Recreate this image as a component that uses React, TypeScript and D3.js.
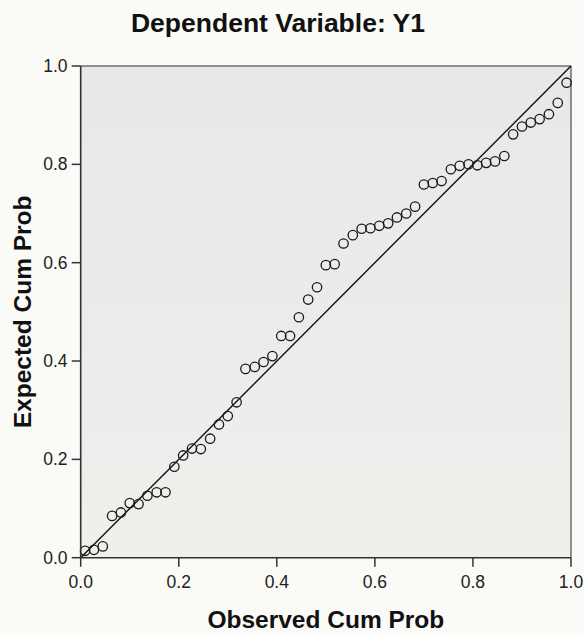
import React from "react";
import * as d3 from "d3";

const observed: number[] = [
  0.009, 0.027, 0.045, 0.064, 0.082, 0.1, 0.118, 0.136, 0.155, 0.173, 0.191,
  0.209, 0.227, 0.245, 0.264, 0.282, 0.3, 0.318, 0.336, 0.355, 0.373, 0.391,
  0.409, 0.427, 0.445, 0.464, 0.482, 0.5, 0.518, 0.536, 0.555, 0.573, 0.591,
  0.609, 0.627, 0.645, 0.664, 0.682, 0.7, 0.718, 0.736, 0.755, 0.773, 0.791,
  0.809, 0.827, 0.845, 0.864, 0.882, 0.9, 0.918, 0.936, 0.955, 0.973, 0.991,
];

const expected: number[] = [
  0.014, 0.016, 0.023, 0.085, 0.092, 0.111, 0.109, 0.126, 0.133, 0.133, 0.185,
  0.208, 0.222, 0.221, 0.242, 0.271, 0.288, 0.316, 0.384, 0.388, 0.398, 0.41,
  0.451, 0.451, 0.489, 0.525, 0.55, 0.595, 0.597, 0.639, 0.656, 0.669, 0.67,
  0.675, 0.68, 0.692, 0.7, 0.714, 0.759, 0.762, 0.766, 0.79, 0.797, 0.8,
  0.798, 0.803, 0.806, 0.817, 0.861, 0.877, 0.885, 0.892, 0.902, 0.925, 0.966,
];

const tickValues: number[] = [0, 0.2, 0.4, 0.6, 0.8, 1.0];
const tickLabels: string[] = ["0.0", "0.2", "0.4", "0.6", "0.8", "1.0"];

const title = "Dependent Variable: Y1";
const xTitle = "Observed Cum Prob";
const yTitle = "Expected Cum Prob";

const W = 584;
const H = 633;
const FONT = "'Liberation Sans', Arial, Helvetica, sans-serif";

export default function App() {
  const x = d3.scaleLinear().domain([0, 1]).range([80.7, 571]);
  const y = d3.scaleLinear().domain([0, 1]).range([557.7, 66]);
  const [x0, x1] = x.range();
  const [y0, y1] = y.range();
  const line = d3.line<number>()
    .x((d) => x(d))
    .y((d) => y(d));

  return (
    <div style={{ position: "fixed", left: 0, top: 0 }}>
      <svg width={W} height={H} style={{ display: "block" }}>
        <defs>
          <linearGradient id="bg" x1="0" y1="0" x2="0" y2="1">
            <stop offset="0" stopColor="#e7e8e9" />
            <stop offset="0.5" stopColor="#ebecea" />
            <stop offset="1" stopColor="#efefec" />
          </linearGradient>
        </defs>
        <rect x={0} y={0} width={W} height={H} fill="#fafaf7" />
        <rect x={x0} y={y1} width={x1 - x0} height={y0 - y1} fill="url(#bg)" />
        <line x1={x0} y1={y1} x2={x1} y2={y1} stroke="#6e6e6e" strokeWidth={1.5} />
        <line x1={x1} y1={y1} x2={x1} y2={y0} stroke="#6e6e6e" strokeWidth={1.5} />
        <path d={line([0, 1]) || ""} stroke="#111" strokeWidth={1.4} fill="none" />
        {observed.map((ov, i) => (
          <circle
            key={i}
            cx={x(ov)}
            cy={y(expected[i])}
            r={4.7}
            fill="none"
            stroke="#1a1a1a"
            strokeWidth={1.3}
          />
        ))}
        <line x1={x0} y1={y0} x2={x1} y2={y0} stroke="#333" strokeWidth={1.6} />
        <line x1={x0} y1={y1} x2={x0} y2={y0} stroke="#333" strokeWidth={1.6} />
        {tickValues.map((t, i) => (
          <g key={"x" + i}>
            <line x1={x(t)} x2={x(t)} y1={y0} y2={y0 + 9} stroke="#333" strokeWidth={1.5} />
            <text
              x={x(t)}
              y={587.5}
              textAnchor="middle"
              fontFamily={FONT}
              fontSize={17.5}
              fill="#222"
            >
              {tickLabels[i]}
            </text>
          </g>
        ))}
        {tickValues.map((t, i) => (
          <g key={"y" + i}>
            <line x1={x0 - 9} x2={x0} y1={y(t)} y2={y(t)} stroke="#333" strokeWidth={1.5} />
            <text
              x={67.5}
              y={y(t)}
              dy="0.35em"
              textAnchor="end"
              fontFamily={FONT}
              fontSize={17.5}
              fill="#222"
            >
              {tickLabels[i]}
            </text>
          </g>
        ))}
        <text
          x={278}
          y={32.3}
          textAnchor="middle"
          fontFamily={FONT}
          fontWeight="bold"
          fontSize={26.5}
          fill="#111"
        >
          {title}
        </text>
        <text
          x={(x0 + x1) / 2}
          y={627.5}
          textAnchor="middle"
          fontFamily={FONT}
          fontWeight="bold"
          fontSize={24.5}
          fill="#111"
        >
          {xTitle}
        </text>
        <text
          transform={`translate(31,${(y0 + y1) / 2}) rotate(-90)`}
          textAnchor="middle"
          fontFamily={FONT}
          fontWeight="bold"
          fontSize={24.5}
          fill="#111"
        >
          {yTitle}
        </text>
      </svg>
    </div>
  );
}
